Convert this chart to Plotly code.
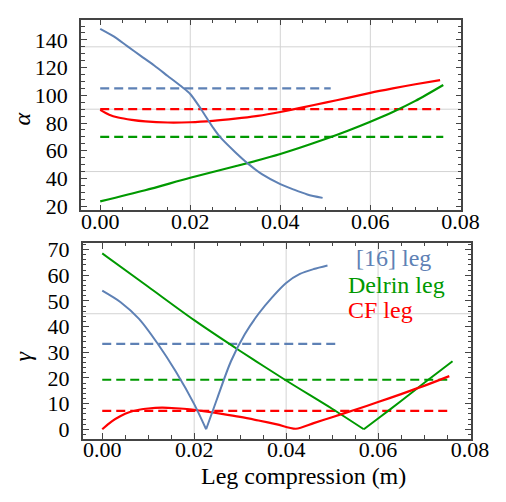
import plotly.graph_objects as go

# ---------------- data: alpha (top panel) ----------------
blue_a_x = [0, 0.003, 0.006, 0.009, 0.012, 0.015, 0.018, 0.020, 0.0224, 0.025, 0.0266, 0.030, 0.0331, 0.036, 0.040, 0.043, 0.046, 0.0494]
blue_a_y = [148, 142.5, 135.5, 128.5, 121.5, 114, 106.5, 101, 90, 77, 70, 59, 50, 43, 36, 32, 28.5, 26]
red_a_x = [0, 0.002, 0.004, 0.007, 0.010, 0.015, 0.020, 0.025, 0.030, 0.035, 0.040, 0.045, 0.050, 0.055, 0.060, 0.065, 0.070, 0.0755]
red_a_y = [89.5, 86, 84, 82.3, 81.2, 80.4, 80.6, 81.6, 83.2, 85.2, 88, 91.3, 94.8, 98.2, 101.8, 105, 108, 111]
green_a_x = [0, 0.01, 0.02, 0.03, 0.04, 0.05, 0.055, 0.06, 0.065, 0.07, 0.0762]
green_a_y = [23.5, 31.5, 40.5, 48.8, 57.7, 68.5, 74.5, 81, 88, 96, 107.5]
dash_a_blue = [105, 105]
dash_a_blue_x = [0, 0.0512]
dash_a_red = [90, 90]
dash_a_red_x = [0, 0.0755]
dash_a_green = [70, 70]
dash_a_green_x = [0, 0.0762]

# ---------------- data: gamma (bottom panel) ----------------
blue_g_x = [0, 0.004, 0.008, 0.012, 0.016, 0.020, 0.0226, 0.025, 0.028, 0.031, 0.034, 0.037, 0.040, 0.043, 0.046, 0.049]
blue_g_y = [54, 49.5, 43, 33.5, 22.5, 9.8, 0, 12, 26.5, 37, 45, 51.5, 57, 60.5, 62.4, 63.8]
red_g_x = [0, 0.002, 0.004, 0.006, 0.008, 0.010, 0.013, 0.016, 0.019, 0.022, 0.026, 0.030, 0.034, 0.038, 0.0421, 0.046, 0.050, 0.055, 0.060, 0.065, 0.070, 0.0755]
red_g_y = [0, 3.0, 5.2, 6.7, 7.6, 8.1, 8.4, 8.2, 7.8, 7.1, 6.0, 4.8, 3.4, 1.9, 0.2, 2.4, 4.7, 7.6, 10.6, 13.7, 16.9, 20.7]
green_g_x = [0, 0.01, 0.02, 0.03, 0.04, 0.05, 0.0569, 0.06, 0.065, 0.07, 0.0762]
green_g_y = [68.5, 55.5, 42.5, 30.5, 19, 8, 0, 4.2, 11, 18, 26.5]
dash_g_blue = [33.3, 33.3]
dash_g_blue_x = [0, 0.0512]
dash_g_green = [19.3, 19.3]
dash_g_green_x = [0, 0.0753]
dash_g_red = [7.2, 7.2]
dash_g_red_x = [0, 0.0753]

legend_labels = ["[16] leg", "Delrin leg", "CF leg"]
x_ticks = [0, 0.02, 0.04, 0.06, 0.08]
x_ticktext = ["0.00", "0.02", "0.04", "0.06", "0.08"]
grid_x = [0.02, 0.04, 0.06]
grid_y_top = [45, 90, 135]
grid_y_bottom = [45]

BLUE = "#5E81B5"
GREEN = "#009900"
RED = "#FF0000"
FONT = "Liberation Serif"
W, H = 506, 502

fig = go.Figure()

def solid(x, y, color, xa, ya, w=2.2, shape="spline"):
    fig.add_trace(go.Scatter(x=x, y=y, mode="lines", line=dict(color=color, width=w, shape=shape, smoothing=0.8),
                             xaxis=xa, yaxis=ya, showlegend=False, hoverinfo="skip"))

def solid_kinked(x, y, color, xa, ya, w=2.2):
    # split at the minimum so the kink stays sharp while branches stay smooth
    k = y.index(min(y))
    solid(x[:k + 1], y[:k + 1], color, xa, ya, w)
    solid(x[k:], y[k:], color, xa, ya, w)

def dashed(x, y, color, xa, ya):
    fig.add_trace(go.Scatter(x=x, y=y, mode="lines", line=dict(color=color, width=2.2, dash="9px,5px"),
                             xaxis=xa, yaxis=ya, showlegend=False, hoverinfo="skip"))

# top panel
dashed(dash_a_blue_x, dash_a_blue, BLUE, "x", "y")
dashed(dash_a_red_x, dash_a_red, RED, "x", "y")
dashed(dash_a_green_x, dash_a_green, GREEN, "x", "y")
solid(green_a_x, green_a_y, GREEN, "x", "y")
solid(red_a_x, red_a_y, RED, "x", "y")
solid(blue_a_x, blue_a_y, BLUE, "x", "y", 2)

# bottom panel
dashed(dash_g_blue_x, dash_g_blue, BLUE, "x2", "y2")
dashed(dash_g_green_x, dash_g_green, GREEN, "x2", "y2")
dashed(dash_g_red_x, dash_g_red, RED, "x2", "y2")
solid_kinked(green_g_x, green_g_y, GREEN, "x2", "y2", 2)
solid_kinked(red_g_x, red_g_y, RED, "x2", "y2")
solid_kinked(blue_g_x, blue_g_y, BLUE, "x2", "y2", 2)

tickfont = dict(family=FONT, size=22, color="black")
frame = "#444444"

def xaxis_cfg(domain, anchor):
    return dict(domain=domain, anchor=anchor, range=[-0.0042, 0.0802],
                tickvals=x_ticks, ticktext=x_ticktext, ticks="inside", ticklen=6, tickwidth=1,
                tickcolor=frame, mirror="allticks", showline=True, linecolor=frame, linewidth=1.5,
                showgrid=False, zeroline=False, tickfont=tickfont, ticklabelstandoff=-10,
                minor=dict(dtick=0.005, tick0=0, ticks="inside", ticklen=3.5, tickcolor=frame, showgrid=False))

def yaxis_cfg(domain, anchor, rng, dtick, mdtick, tick0):
    return dict(domain=domain, anchor=anchor, range=rng, dtick=dtick, tick0=tick0,
                ticks="inside", ticklen=6, tickwidth=1, tickcolor=frame, mirror="allticks",
                showline=True, linecolor=frame, linewidth=1.5, showgrid=False, zeroline=False,
                tickfont=tickfont, ticksuffix="\u2004",
                minor=dict(dtick=mdtick, tick0=0, ticks="inside", ticklen=3.5, tickcolor=frame, showgrid=False))

shapes = []
for gx in grid_x:
    shapes.append(dict(type="line", xref="x", yref="y domain", x0=gx, x1=gx, y0=0, y1=1,
                       line=dict(color="#D3D3D3", width=1), layer="below"))
    shapes.append(dict(type="line", xref="x2", yref="y2 domain", x0=gx, x1=gx, y0=0, y1=1,
                       line=dict(color="#D3D3D3", width=1), layer="below"))
for gy in grid_y_top:
    shapes.append(dict(type="line", xref="x domain", yref="y", x0=0, x1=1, y0=gy, y1=gy,
                       line=dict(color="#D3D3D3", width=1), layer="below"))
for gy in grid_y_bottom:
    shapes.append(dict(type="line", xref="x2 domain", yref="y2", x0=0, x1=1, y0=gy, y1=gy,
                       line=dict(color="#D3D3D3", width=1), layer="below"))

annotations = [
    dict(text="<i>α</i>", x=14 / W, y=1 - 108 / H, xref="paper", yref="paper", showarrow=False,
         textangle=-90, font=dict(family=FONT, size=24, color="black"), xanchor="center", yanchor="middle"),
    dict(text="<i>γ</i>", x=16 / W, y=1 - 352 / H, xref="paper", yref="paper", showarrow=False,
         textangle=-90, font=dict(family=FONT, size=24, color="black"), xanchor="center", yanchor="middle"),
    dict(text="Leg compression (m)", x=306 / W, y=1 - 475 / H, xref="paper", yref="paper", showarrow=False,
         font=dict(family=FONT, size=24, color="black"), xanchor="center", yanchor="middle"),
    dict(text=legend_labels[0], x=359 / W, y=1 - 251 / H, xref="paper", yref="paper", showarrow=False,
         font=dict(family=FONT, size=24, color=BLUE), xanchor="left", yanchor="middle"),
    dict(text=legend_labels[1], x=350 / W, y=1 - 279 / H, xref="paper", yref="paper", showarrow=False,
         font=dict(family=FONT, size=24, color=GREEN), xanchor="left", yanchor="middle"),
    dict(text=legend_labels[2], x=350 / W, y=1 - 304 / H, xref="paper", yref="paper", showarrow=False,
         font=dict(family=FONT, size=24, color=RED), xanchor="left", yanchor="middle"),
]

fig.update_layout(
    width=W, height=H, margin=dict(l=0, r=0, t=0, b=0),
    paper_bgcolor="white", plot_bgcolor="white", showlegend=False,
    font=dict(family=FONT),
    xaxis=xaxis_cfg([76 / W, 470 / W], "y"),
    yaxis=yaxis_cfg([1 - 202 / H, 1 - 5.7 / H], "x", [17, 154.7], 20, 5, 20),
    xaxis2=xaxis_cfg([77.7 / W, 480 / W], "y2"),
    yaxis2=yaxis_cfg([1 - 436.7 / H, 1 - 235.7 / H], "x2", [-3.6, 72.5], 10, 2, 0),
    shapes=shapes, annotations=annotations,
)

fig.write_html("out.html")
